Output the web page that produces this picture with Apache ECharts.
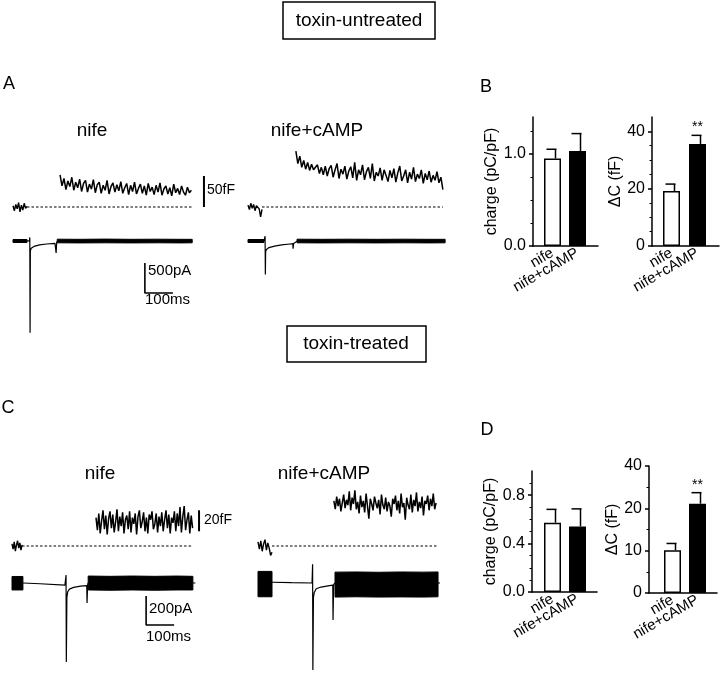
<!DOCTYPE html>
<html>
<head>
<meta charset="utf-8">
<title>toxin-untreated / toxin-treated</title>
<script src="https://cdn.jsdelivr.net/npm/echarts@6.0.0/dist/echarts.min.js"></script>
<style>
  html, body { margin: 0; background: #fff; }
  #chart { width: 720px; height: 676px; }
</style>
</head>
<body>
<div id="chart"></div>
<script>
// ---------- data ----------
const groups = ['nife', 'nife+cAMP']

// B (toxin-untreated) / D (toxin-treated): mean, SEM, significance
const chargeUntreated = [0.95, 1.03]
const chargeUntreatedErr = [0.10, 0.19]
const deltaCUntreated = [19.2, 35.6]
const deltaCUntreatedErr = [2.4, 3.0]
const sigUntreated = ['', '**']

const chargeTreated = [0.573, 0.542]
const chargeTreatedErr = [0.11, 0.145]
const deltaCTreated = [10.1, 21.1]
const deltaCTreatedErr = [1.6, 2.6]
const sigTreated = ['', '**']

// tick labels as printed
const chargeTicksB = [0, 1.0], chargeLabelsB = ['0.0', '1.0']
const chargeMinorB = [0.25, 0.5, 0.75, 1.25]
const deltaCTicksB = [0, 20, 40], deltaCLabelsB = ['0', '20', '40']
const deltaCMinorB = [5, 10, 15, 25, 30, 35]
const chargeTicksD = [0, 0.4, 0.8], chargeLabelsD = ['0.0', '0.4', '0.8']
const chargeMinorD = [0.1, 0.2, 0.3, 0.5, 0.6, 0.7, 0.9]
const deltaCTicksD = [0, 10, 20, 30], deltaCLabelsD = ['0', '10', '20', '40']
const deltaCMinorD = [5, 15, 25]

// capacitance traces (fF above baseline), sampled every step ms from start
const cmPreA1 = [2, -6, 4, -3, 7, -8, 3, -5, 6, -2, 1]            // 0..50 ms, 5 ms
const cmA1Start = 168, cmA1Step = 7
const cmA1 = [52, 34, 46, 28, 42, 33, 48, 27, 40, 31,
  45, 25, 38, 43, 24, 37, 29, 44, 23, 36,
  40, 22, 35, 27, 43, 21, 33, 39, 24, 36,
  26, 41, 22, 31, 38, 20, 35, 25, 40, 21,
  30, 37, 22, 34, 19, 38, 25, 32, 20, 35,
  24, 39, 19, 29, 34, 21, 31, 18, 37, 23,
  30, 20, 34, 24, 19, 32, 23, 27]
const cmA1End = 640

const cmPreA2 = [3, -4, 6, -2, 4, -6, 2, 5, -3, -16, -4]          // 0..50 ms, 5 ms
const cmA2Start = 171, cmA2Step = 7
const cmA2 = [90, 70, 82, 64, 75, 61, 72, 59, 69, 60,
  58, 68, 54, 64, 52, 66, 50, 62, 67, 48,
  60, 70, 46, 61, 53, 66, 45, 58, 65, 47,
  72, 43, 60, 52, 68, 44, 57, 64, 46, 70,
  42, 56, 50, 63, 43, 60, 51, 41, 59, 47,
  62, 40, 55, 66, 42, 50, 60, 39, 56, 45,
  64, 41, 53, 46, 60, 38, 54, 44, 58, 40,
  51, 43, 57, 39, 48, 28]
const cmA2End = 696

const cmPreC1 = [2, -3, 4, -5, 1, 5, -2, 3, -4, 1]                // 0..36 ms, 4 ms
const cmC1Start = 300, cmC1Step = 5
const cmC1 = [27, 15, 31, 12, 24, 34, 16, 29, 11, 26,
  33, 17, 30, 13, 23, 35, 14, 28, 19, 32,
  12, 25, 29, 16, 33, 13, 27, 21, 31, 11,
  28, 34, 17, 23, 32, 14, 27, 12, 30, 25,
  33, 16, 21, 31, 13, 28, 19, 32, 14, 25,
  34, 17, 30, 12, 27, 22, 33, 14, 31, 19,
  37, 13, 28, 38, 15, 25, 32, 12, 29, 17]
const cmC1End = 646

const cmPreC2 = [4, -3, 5, -5, 2, 6, -4, 3, -2, -9, -6]           // 0..50 ms, 5 ms
const cmC2Start = 271, cmC2Step = 5
const cmC2 = [43, 35, 47, 38, 45, 33, 41, 49, 36, 44,
  39, 52, 34, 46, 40, 53, 35, 42, 31, 48,
  37, 43, 32, 50, 38, 26, 45, 40, 34, 47,
  41, 36, 44, 30, 49, 39, 35, 46, 33, 42,
  38, 28, 45, 40, 48, 34, 43, 31, 50, 37,
  41, 25, 46, 39, 35, 49, 32, 44, 38, 51,
  33, 42, 36, 47, 29, 43, 40, 48, 34, 45,
  38, 50, 35, 41]
const cmC2End = 643

// membrane currents (pA): [ms, pA]; bands are [ms, upper, lower] envelopes
const iPreA1 = [[0, 25, -25], [50, 25, -25]]
const iA1 = [[50, 0], [59, 5], [60, 60], [61, -1530], [62, -170], [65, -120], [75, -90], [95, -65],
  [120, -50], [150, -40], [153, -35], [154, -200], [156, -30], [158, -5]]
const iBandA1 = [[158, 30, -30], [240, 28, -32], [330, 32, -30], [420, 28, -32], [520, 30, -30], [600, 28, -32], [640, 28, -30]]

const iPreA2 = [[0, 25, -25], [57, 25, -25]]
const iA2 = [[57, 0], [60, 5], [61, 80], [62, -560], [63, -180], [66, -140], [75, -110], [95, -85],
  [120, -65], [150, -50], [160, -45], [161, -130], [163, -40], [175, -5]]
const iBandA2 = [[175, 30, -30], [260, 28, -32], [360, 30, -30], [460, 28, -32], [560, 30, -30], [650, 28, -32], [704, 28, -30]]

const iPreC1 = [[0, 45, -48], [39, 45, -48]]
const iC1 = [[39, 0], [100, -5], [189, -15], [192, -15], [193, 55], [194, -545], [196, -100], [199, -60],
  [205, -42], [220, -30], [245, -22], [267, -18], [268, -138], [270, -15], [272, 0]]
const iBandC1 = [[272, 48, -48], [350, 46, -50], [430, 48, -48], [510, 46, -50], [590, 48, -48], [646, 46, -48]]
const iTailC1 = [[646, 0], [655, 0]]

const iPreC2 = [[0, 80, -95], [50, 80, -95]]
const iC2 = [[50, 5], [120, 2], [193, 0], [195, 130], [196, -600], [198, -100], [201, -65], [208, -40],
  [225, -28], [250, -20], [267, -15], [268, -255], [270, -12], [275, 0]]
const iBandC2 = [[275, 75, -97], [350, 76, -95], [430, 74, -97], [510, 76, -96], [590, 75, -97], [643, 76, -95]]
const iTailC2 = [[643, 0], [650, 0]]

// scale bars
const barCmA = 50, barIA = 500, barCmC = 20, barIC = 200, barTime = 100

// ---------- layout ----------
const FONT = '"Liberation Sans", Arial, sans-serif'
const PX_PER_MS = 0.28

const grids = [], xAxes = [], yAxes = [], series = []

function addTraceGrid(x0, right, base, pxPerUnit, top, bottom) {
  const gi = grids.length
  grids.push({ left: x0, top: top, width: right - x0, height: bottom - top })
  xAxes.push({ type: 'value', gridIndex: gi, min: 0, max: (right - x0) / PX_PER_MS, show: false })
  yAxes.push({ type: 'value', gridIndex: gi, min: -(bottom - base) / pxPerUnit, max: (base - top) / pxPerUnit, show: false })
  return { x: xAxes.length - 1, y: yAxes.length - 1 }
}

function sampled(start, step, values) {
  return values.map((v, i) => [start + i * step, v])
}

function trace(ax, points, width, dash) {
  series.push({
    type: 'line', xAxisIndex: ax.x, yAxisIndex: ax.y, data: points,
    symbol: 'none', silent: true, z: 3,
    lineStyle: { color: '#000', width: width || 1.3, type: dash || 'solid' }
  })
}

function band(ax, rows) {
  series.push({
    type: 'custom', xAxisIndex: ax.x, yAxisIndex: ax.y, silent: true, z: 3,
    data: rows.map(r => [r[0], r[1]]),
    renderItem: function (params, api) {
      if (params.dataIndex !== 0) return null
      const upper = rows.map(r => api.coord([r[0], r[1]]))
      const lower = rows.slice().reverse().map(r => api.coord([r[0], r[2]]))
      return { type: 'polygon', shape: { points: upper.concat(lower) }, style: { fill: '#000', stroke: '#000', lineWidth: 1 } }
    }
  })
}

function cmPanel(ax, pre, preStep, start, step, values, end) {
  trace(ax, sampled(0, preStep, pre), 1.4)
  const preEnd = (pre.length - 1) * preStep
  trace(ax, [[preEnd, 0], [end, 0]], 1.2, [2.5, 2])
  trace(ax, sampled(start, step, values), 1.5)
}

function addBarGrid(cfg) {
  const gi = grids.length
  const unit = cfg.c2 - cfg.c1
  const xmin = 1 - (cfg.c1 - cfg.left) / unit
  const xmax = xmin + (cfg.right - cfg.left) / unit
  grids.push({ left: cfg.left, top: cfg.top, width: cfg.right - cfg.left, height: cfg.bottom - cfg.top })
  // one bottom axis per group so the two rotated labels are both kept
  let xi = -1
  groups.forEach(function (g, k) {
    xAxes.push({
      type: 'value', gridIndex: gi, min: xmin, max: xmax, position: 'bottom', offset: 0,
      axisLine: { show: k === 0, onZero: false, lineStyle: { color: '#000', width: 1.5 } },
      axisTick: { show: false }, splitLine: { show: false },
      axisLabel: {
        customValues: [k + 1], formatter: () => g,
        rotate: 30, margin: 6, color: '#000', fontSize: 15, fontFamily: FONT
      }
    })
    if (k === 0) xi = xAxes.length - 1
  })
  const pick = v => cfg.labels[cfg.ticks.findIndex(t => Math.abs(t - v) < 1e-6)]
  yAxes.push({
    type: 'value', gridIndex: gi, min: 0, max: cfg.max, position: 'left',
    axisLine: { show: true, onZero: false, lineStyle: { color: '#000', width: 1.5 } },
    axisTick: { show: true, customValues: cfg.ticks, length: 4, lineStyle: { color: '#000', width: 1.5 } },
    axisLabel: { customValues: cfg.ticks, formatter: pick, margin: 7, color: '#000', fontSize: 16, fontFamily: FONT },
    splitLine: { show: false },
    name: cfg.name, nameLocation: 'middle', nameGap: cfg.nameGap,
    nameTextStyle: { color: '#000', fontSize: 16, fontFamily: FONT }
  })
  const yi = yAxes.length - 1
  yAxes.push({
    type: 'value', gridIndex: gi, min: 0, max: cfg.max, position: 'left',
    axisLine: { show: false },
    axisTick: { show: true, customValues: cfg.minor, length: 2.5, lineStyle: { color: '#000', width: 1 } },
    axisLabel: { show: false }, splitLine: { show: false }
  })
  series.push({
    type: 'bar', xAxisIndex: xi, yAxisIndex: yi, barWidth: 17, silent: true,
    data: [
      { value: [1, cfg.means[0]], itemStyle: { color: '#fff', borderColor: '#000', borderWidth: 1.5 } },
      { value: [2, cfg.means[1]], itemStyle: { color: '#000', borderColor: '#000', borderWidth: 1.5 } }
    ]
  })
  series.push({
    type: 'custom', xAxisIndex: xi, yAxisIndex: yi, silent: true, z: 4,
    data: [[1, cfg.means[0], cfg.errs[0]], [2, cfg.means[1], cfg.errs[1]]],
    renderItem: function (params, api) {
      const x = api.value(0), m = api.value(1), e = api.value(2)
      const p0 = api.coord([x, m]), p1 = api.coord([x, m + e])
      const cx = p0[0] + 3
      const kids = [
        { type: 'line', shape: { x1: cx, y1: p0[1], x2: cx, y2: p1[1] }, style: { stroke: '#000', lineWidth: 1.5 } },
        { type: 'line', shape: { x1: p0[0] - 6, y1: p1[1], x2: cx + 1, y2: p1[1] }, style: { stroke: '#000', lineWidth: 1.5 } }
      ]
      const s = cfg.sig[params.dataIndex]
      if (s) {
        kids.push({ type: 'text', style: { text: s, x: p0[0], y: p1[1] - 15, align: 'center', verticalAlign: 'top', fill: '#000', font: '14px ' + FONT } })
      }
      return { type: 'group', children: kids }
    }
  })
}

// ---- A: toxin-untreated traces ----
const cmA1Ax = addTraceGrid(13, 215, 207, 0.62, 140, 225)
cmPanel(cmA1Ax, cmPreA1, 5, cmA1Start, cmA1Step, cmA1, cmA1End)
trace(cmA1Ax, [[682, 0], [682, barCmA]], 2)

const iA1Ax = addTraceGrid(13, 215, 241, 0.06, 225, 345)
band(iA1Ax, iPreA1)
trace(iA1Ax, iA1, 1.2)
band(iA1Ax, iBandA1)
trace(iA1Ax, [[471, -367], [471, -367 - barIA], [471 + barTime, -367 - barIA]], 1.6)

const cmA2Ax = addTraceGrid(248, 455, 207, 0.62, 140, 225)
cmPanel(cmA2Ax, cmPreA2, 5, cmA2Start, cmA2Step, cmA2, cmA2End)

const iA2Ax = addTraceGrid(248, 455, 241, 0.06, 225, 345)
band(iA2Ax, iPreA2)
trace(iA2Ax, iA2, 1.2)
band(iA2Ax, iBandA2)

// ---- C: toxin-treated traces ----
const cmC1Ax = addTraceGrid(12, 215, 546, 1.05, 480, 562)
cmPanel(cmC1Ax, cmPreC1, 4, cmC1Start, cmC1Step, cmC1, cmC1End)
trace(cmC1Ax, [[668, 14], [668, 14 + barCmC]], 2)

const iC1Ax = addTraceGrid(12, 215, 583, 0.145, 562, 676)
band(iC1Ax, iPreC1)
trace(iC1Ax, iC1, 1.2)
band(iC1Ax, iBandC1)
trace(iC1Ax, iTailC1, 1.2)
trace(iC1Ax, [[479, -90], [479, -90 - barIC], [479 + barTime, -90 - barIC]], 1.6)

const cmC2Ax = addTraceGrid(258, 455, 546, 1.05, 480, 562)
cmPanel(cmC2Ax, cmPreC2, 5, cmC2Start, cmC2Step, cmC2, cmC2End)

const iC2Ax = addTraceGrid(258, 455, 583, 0.145, 562, 676)
band(iC2Ax, iPreC2)
trace(iC2Ax, iC2, 1.2)
band(iC2Ax, iBandC2)
trace(iC2Ax, iTailC2, 1.2)

// ---- B / D: bar charts ----
addBarGrid({ left: 533, right: 598, top: 117, bottom: 246, c1: 552.5, c2: 577.5, max: 1.4,
  ticks: chargeTicksB, labels: chargeLabelsB, minor: chargeMinorB, name: 'charge (pC/pF)', nameGap: 25,
  means: chargeUntreated, errs: chargeUntreatedErr, sig: ['', ''] })
addBarGrid({ left: 652, right: 719, top: 117, bottom: 246, c1: 671.5, c2: 697.5, max: 45,
  ticks: deltaCTicksB, labels: deltaCLabelsB, minor: deltaCMinorB, name: 'ΔC (fF)', nameGap: 23,
  means: deltaCUntreated, errs: deltaCUntreatedErr, sig: sigUntreated })
addBarGrid({ left: 532, right: 597, top: 471, bottom: 592, c1: 552.5, c2: 577.5, max: 1.0,
  ticks: chargeTicksD, labels: chargeLabelsD, minor: chargeMinorD, name: 'charge (pC/pF)', nameGap: 25,
  means: chargeTreated, errs: chargeTreatedErr, sig: ['', ''] })
addBarGrid({ left: 649, right: 717, top: 466, bottom: 593, c1: 672.5, c2: 697.5, max: 30,
  ticks: deltaCTicksD, labels: deltaCLabelsD, minor: deltaCMinorD, name: 'ΔC (fF)', nameGap: 20,
  means: deltaCTreated, errs: deltaCTreatedErr, sig: sigTreated })

// ---- free text ----
function txt(text, x, y, size, align) {
  return { type: 'text', silent: true, style: { text: text, x: x, y: y, align: align || 'center', verticalAlign: 'middle', fill: '#000', font: size + 'px ' + FONT } }
}
const graphic = [
  { type: 'rect', silent: true, shape: { x: 283, y: 2, width: 152, height: 37 }, style: { fill: 'none', stroke: '#000', lineWidth: 1.5 } },
  txt('toxin-untreated', 359, 21, 19),
  { type: 'rect', silent: true, shape: { x: 287, y: 326, width: 139, height: 36 }, style: { fill: 'none', stroke: '#000', lineWidth: 1.5 } },
  txt('toxin-treated', 356, 344, 19),
  txt('A', 9, 84, 18), txt('B', 486, 87, 18), txt('C', 8, 408, 18), txt('D', 487, 430, 18),
  txt('nife', 92, 131, 19), txt('nife+cAMP', 317, 131, 19),
  txt('nife', 100, 474, 19), txt('nife+cAMP', 324, 474, 19),
  txt('50fF', 207, 190, 14, 'left'),
  txt('500pA', 148, 271, 15, 'left'), txt('100ms', 145, 300, 15, 'left'),
  txt('20fF', 204, 520, 14, 'left'),
  txt('200pA', 149, 609, 15, 'left'), txt('100ms', 146, 637, 15, 'left')
]

const chart = echarts.init(document.getElementById('chart'))
chart.setOption({
  animation: false,
  backgroundColor: '#fff',
  grid: grids,
  xAxis: xAxes,
  yAxis: yAxes,
  series: series,
  graphic: graphic
})
</script>
</body>
</html>
